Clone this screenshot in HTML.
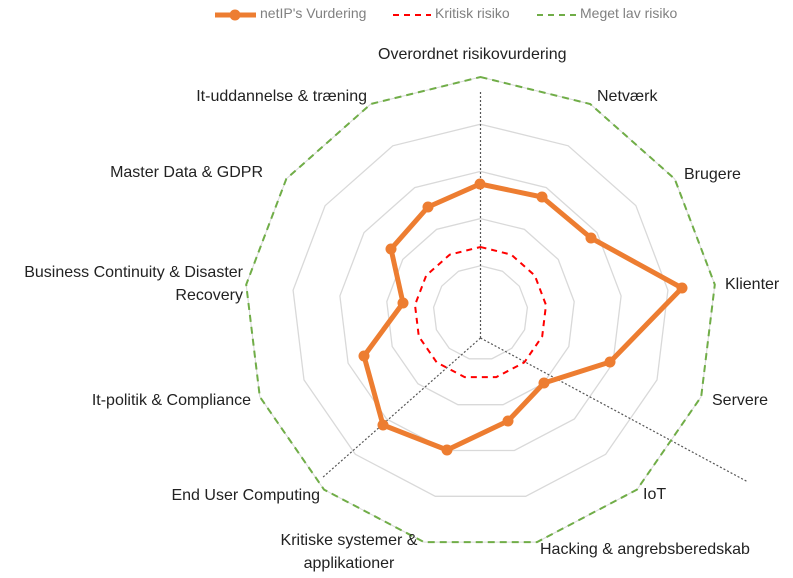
<!DOCTYPE html>
<html><head><meta charset="utf-8"><style>
body{margin:0;background:#fff;width:793px;height:578px;overflow:hidden;font-family:"Liberation Sans",sans-serif}
.l{position:absolute;font-size:16px;color:#222;white-space:nowrap;line-height:23px}
.g{position:absolute;font-size:14px;color:#808080;top:5px;white-space:nowrap}
</style></head><body>
<svg id="s" width="793" height="578" style="position:absolute;left:0;top:0"></svg>
<div class="g" style="left:260px">netIP's Vurdering</div>
<div class="g" style="left:435px">Kritisk risiko</div>
<div class="g" style="left:580px">Meget lav risiko</div>
<div class="l" style="left:378px;top:43px">Overordnet risikovurdering</div>
<div class="l" style="left:597px;top:85px">Netværk</div>
<div class="l" style="left:684px;top:163px">Brugere</div>
<div class="l" style="left:725px;top:273px">Klienter</div>
<div class="l" style="left:712px;top:389px">Servere</div>
<div class="l" style="left:643px;top:483px">IoT</div>
<div class="l" style="left:540px;top:538px">Hacking &amp; angrebsberedskab</div>
<div class="l" style="left:249px;width:200px;top:529px;text-align:center">Kritiske systemer &amp;<br>applikationer</div>
<div class="l" style="right:473px;top:484px">End User Computing</div>
<div class="l" style="right:542px;top:389px">It-politik &amp; Compliance</div>
<div class="l" style="right:550px;top:261px;text-align:right">Business Continuity &amp; Disaster<br>Recovery</div>
<div class="l" style="right:530px;top:161px">Master Data &amp; GDPR</div>
<div class="l" style="right:426px;top:85px">It-uddannelse &amp; træning</div>
<script>
var cx=480.5,cy=313,n=13,s='';
function poly(r){var p=[];for(var i=0;i<n;i++){var a=i*2*Math.PI/n;p.push((cx+r*Math.sin(a)).toFixed(1)+','+(cy-r*Math.cos(a)).toFixed(1));}return p.join(' ');}
[47.2,94.4,141.6,188.8].forEach(function(r){s+='<polygon points="'+poly(r)+'" fill="none" stroke="#d9d9d9" stroke-width="1.3"/>';});
s+='<line x1="480.5" y1="338" x2="480.5" y2="90" stroke="#555" stroke-width="1.2" stroke-dasharray="2,2"/>';
s+='<line x1="480.5" y1="338" x2="322" y2="478" stroke="#555" stroke-width="1.2" stroke-dasharray="2,2"/>';
s+='<line x1="480.5" y1="338" x2="748" y2="482" stroke="#555" stroke-width="1.2" stroke-dasharray="2,2"/>';
s+='<polygon points="'+poly(66)+'" fill="none" stroke="#ff0000" stroke-width="2" stroke-dasharray="6,5"/>';
s+='<polygon points="'+poly(236)+'" fill="none" stroke="#d9d9d9" stroke-width="1"/>';
s+='<polygon points="'+poly(236)+'" fill="none" stroke="#70ad47" stroke-width="2" stroke-dasharray="7,5"/>';
var o=[[480,184],[542,197],[591,238],[682,288],[610,362],[544,383],[508,421],[447,450],[383,425],[364,356],[403,303],[391,249],[428,207]];
s+='<polygon points="'+o.map(function(p){return p.join(',')}).join(' ')+'" fill="none" stroke="#ed7d31" stroke-width="5" stroke-linejoin="round"/>';
o.forEach(function(p){s+='<circle cx="'+p[0]+'" cy="'+p[1]+'" r="5.5" fill="#ed7d31"/>';});
s+='<line x1="215" y1="15" x2="256" y2="15" stroke="#ed7d31" stroke-width="5"/><circle cx="235" cy="15" r="5.5" fill="#ed7d31"/>';
s+='<line x1="393" y1="15" x2="431" y2="15" stroke="#ff0000" stroke-width="2" stroke-dasharray="6,5"/>';
s+='<line x1="537" y1="15" x2="576" y2="15" stroke="#70ad47" stroke-width="2" stroke-dasharray="6,5"/>';
document.getElementById('s').innerHTML=s;
</script>
</body></html>
